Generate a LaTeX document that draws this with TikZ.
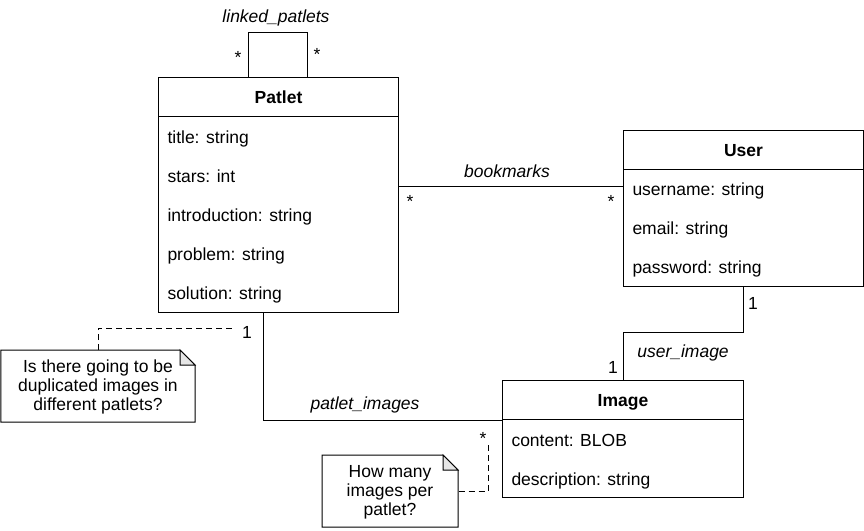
\documentclass[tikz,border=0pt]{standalone}
\usepackage{fontspec}
\setmainfont{Liberation Sans}
\definecolor{foldgray}{HTML}{E6E6E6}
\begin{document}
\begin{tikzpicture}[x=1pt,y=-1pt,line width=1pt,
  every node/.style={font=\fontsize{17.5}{21}\selectfont,inner sep=0pt},
  box/.style={draw,anchor=north west,minimum width=#1,inner sep=0pt},
  hdr/.style={font=\fontsize{17.5}{21}\selectfont\bfseries,text height=12.5pt,text depth=3.5pt,yshift=-1.5pt},
  attr/.style={anchor=west,text height=12.5pt,text depth=3.5pt,yshift=-1.5pt},
  lbl/.style={font=\fontsize{17.5}{21}\selectfont\itshape,text height=12.5pt,text depth=3.5pt,yshift=-1.5pt},
  mult/.style={yshift=-1pt},
  notetext/.style={align=center,font=\fontsize{17.5}{19}\selectfont},
  dashline/.style={dash pattern=on 6pt off 4pt},
  fold/.style={fill=foldgray}]
\useasboundingbox (0,0) rectangle (864,530);

% Patlet
\node[box=240pt,minimum height=39pt] (patletH) at (158,77) {};
\node[hdr] (patletT) at (patletH.center) {Patlet};
\node[box=240pt,minimum height=196pt] (patletB) at (158,116) {};
\node[attr] (pa1) at (167,137) {title: string};
\node[attr] (pa2) at (167,176) {stars: int};
\node[attr] (pa3) at (167,215) {introduction: string};
\node[attr] (pa4) at (167,254) {problem: string};
\node[attr] (pa5) at (167,293) {solution: string};

% User
\node[box=240pt,minimum height=39pt] (userH) at (623,130) {};
\node[hdr] (userT) at (userH.center) {User};
\node[box=240pt,minimum height=117pt] (userB) at (623,169) {};
\node[attr] (ua1) at (632,189) {username: string};
\node[attr] (ua2) at (632,228) {email: string};
\node[attr] (ua3) at (632,267) {password: string};

% Image
\node[box=241pt,minimum height=39pt] (imageH) at (502,380) {};
\node[hdr] (imageT) at (imageH.center) {Image};
\node[box=241pt,minimum height=78pt] (imageB) at (502,419) {};
\node[attr] (ia1) at (511,440) {content: BLOB};
\node[attr] (ia2) at (511,479) {description: string};

% Notes
\draw[fill=white] (0.75,350) -- (180,350) -- (195,365) -- (195,422) -- (0.75,422) -- cycle;
\draw[fold] (180,350) -- (180,365) -- (195,365) -- cycle;
\node[notetext,minimum width=194pt,minimum height=72pt] (note1) at (98,387) {Is there going to be\\duplicated images in\\different patlets?};
\draw[fill=white] (322,455) -- (443,455) -- (458,470) -- (458,527) -- (322,527) -- cycle;
\draw[fold] (443,455) -- (443,470) -- (458,470) -- cycle;
\node[notetext,minimum width=136pt,minimum height=72pt] (note2) at (390,492) {How many\\images per\\patlet?};

% linked_patlets self loop
\coordinate (loopA) at (248,32);
\coordinate (loopB) at (307,32);
\draw ([xshift=90pt]patletH.north west) -- (loopA) -- (loopB) -- ([xshift=149pt]patletH.north west);
\node[lbl] (lpl) at (276,16) {linked\_patlets};
\node[mult] (lps1) at (238,56) {*};
\node[mult] (lps2) at (317,53) {*};

% bookmarks
\coordinate (bk) at (0,186);
\draw (patletB.east |- bk) -- (userB.west |- bk);
\node[lbl] (bkl) at (507,171) {bookmarks};
\node[mult] (bks1) at (410,200) {*};
\node[mult] (bks2) at (611,200) {*};

% user_image
\coordinate (uimid) at (623,332);
\draw (userB.south) |- (uimid) -- (imageH.north);
\node[lbl] (uil) at (683,351) {user\_image};
\node[mult] (uim1) at (753,302) {1};
\node[mult] (uim2) at (613,366) {1};

% patlet_images
\draw ([xshift=-15pt]patletB.south) |- (imageH.south west);
\node[lbl] (pil) at (365,403) {patlet\_images};
\node[mult] (pim1) at (247,331) {1};
\node[mult] (pim2) at (483,437) {*};

% note connectors
\coordinate (n1e) at (233,328);
\draw[dashline] (note1.north |- 0,350) |- (n1e);
\coordinate (n2e) at (488,443);
\draw[dashline] (note2.east |- 0,491) -| (n2e);
\end{tikzpicture}
\end{document}
